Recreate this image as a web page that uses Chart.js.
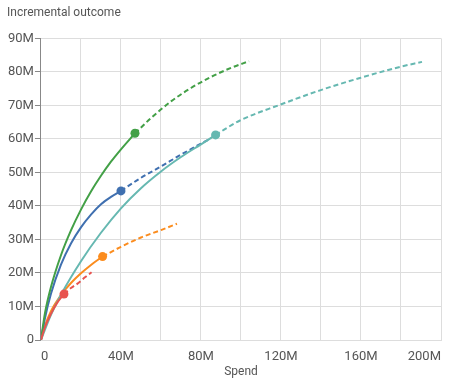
<!DOCTYPE html>
<html>
<head>
<meta charset="utf-8">
<script src="https://cdn.jsdelivr.net/npm/chart.js@4"></script>
<style>
  body { margin: 0; background: #fff; }
  #wrap { width: 450px; height: 380px; }
</style>
</head>
<body>
<div id="wrap"><canvas id="myChart"></canvas></div>
<script>
// values in millions (spend on x, incremental outcome on y)
var greenSpend = [0, 2, 5, 10, 15, 20, 25, 30, 35, 40, 47];
var greenOutcome = [0, 8, 15.8, 25.3, 32.7, 38.9, 44.3, 49, 53.2, 56.9, 61.7];
var greenSpendFwd = [47, 55, 65, 75, 85, 95, 104];
var greenOutcomeFwd = [61.7, 66.2, 71.2, 75.2, 78.5, 81.2, 83.2];

var tealSpend = [0, 5, 10, 20, 30, 40, 50, 60, 70, 80, 87.3];
var tealOutcome = [0, 7.5, 13.5, 23.5, 32, 39.3, 45.3, 50.3, 54.6, 58.4, 61.2];
var tealSpendFwd = [87.3, 99.5, 119.5, 139.5, 159.5, 179.5, 190.5];
var tealOutcomeFwd = [61.2, 65.5, 70.2, 74.5, 78.2, 81.5, 83];

var blueSpend = [0, 2, 5, 10, 15, 20, 25, 30, 35, 40];
var blueOutcome = [0, 6.5, 13.8, 22.5, 28.8, 33.6, 37.4, 40.5, 42.7, 44.5];
var blueSpendFwd = [40, 50, 60, 70, 80, 85];
var blueOutcomeFwd = [44.5, 48.4, 51.8, 55.3, 58.6, 60.2];

var orangeSpend = [0, 2, 5, 10, 15, 20, 25, 30.8];
var orangeOutcome = [0, 4.2, 8.6, 13.4, 17, 19.9, 22.4, 24.9];
var orangeSpendFwd = [30.8, 40, 50, 60, 68];
var orangeOutcomeFwd = [24.9, 27.8, 30.6, 32.8, 34.7];

var redSpend = [0, 2, 5, 8, 11.5];
var redOutcome = [0, 3.8, 7.8, 11, 13.7];
var redSpendFwd = [11.5, 15, 18.7, 22, 25.3];
var redOutcomeFwd = [13.7, 15.5, 17, 18.7, 20.2];

var xTicks = [0, 40, 80, 120, 160, 200];

function toPoints(xs, ys) {
  var pts = [];
  for (var i = 0; i < xs.length; i++) {
    pts.push({ x: xs[i], y: ys[i] });
  }
  return pts;
}

function solid(xs, ys, color) {
  var last = xs.length - 1;
  return {
    data: toPoints(xs, ys),
    borderColor: color,
    backgroundColor: color,
    borderWidth: 2,
    showLine: true,
    cubicInterpolationMode: "monotone",
    pointRadius: function (c) { return c.dataIndex === last ? 4.5 : 0; },
    pointHoverRadius: 0,
    pointBorderWidth: 0,
  };
}

function dashed(xs, ys, color) {
  return {
    data: toPoints(xs, ys),
    borderColor: color,
    borderWidth: 2,
    borderDash: [5, 3],
    showLine: true,
    cubicInterpolationMode: "monotone",
    pointRadius: 0,
  };
}

var green = "#43a047";
var teal = "#66b8b1";
var blue = "#4070b0";
var orange = "#fb8c1e";
var red = "#e8534f";

var ctx = document.getElementById("myChart").getContext("2d");
var myChart = new Chart(ctx, {
  type: "scatter",
  data: {
    datasets: [
      solid(redSpend, redOutcome, red),
      dashed(redSpendFwd, redOutcomeFwd, red),
      solid(tealSpend, tealOutcome, teal),
      dashed(tealSpendFwd, tealOutcomeFwd, teal),
      solid(greenSpend, greenOutcome, green),
      dashed(greenSpendFwd, greenOutcomeFwd, green),
      solid(blueSpend, blueOutcome, blue),
      dashed(blueSpendFwd, blueOutcomeFwd, blue),
      solid(orangeSpend, orangeOutcome, orange),
      dashed(orangeSpendFwd, orangeOutcomeFwd, orange),
    ],
  },
  options: {
    responsive: true,
    maintainAspectRatio: false,
    animation: false,
    layout: { padding: { left: 7, right: 9, top: 0, bottom: 1 } },
    plugins: {
      legend: { display: false },
      tooltip: { enabled: false },
      title: {
        display: true,
        text: "Incremental outcome",
        align: "start",
        color: "#555",
        font: { family: "Roboto", size: 12, weight: "normal" },
        padding: { top: 6, bottom: 18 },
      },
    },
    scales: {
      x: {
        type: "linear",
        min: 0,
        max: 200,
        title: {
          display: true,
          text: "Spend",
          color: "#555",
          font: { family: "Roboto", size: 12 },
          padding: { top: -9, bottom: 0 },
        },
        ticks: {
          stepSize: 20,
          align: "inner",
          padding: 9,
          maxRotation: 0,
          color: "#555",
          font: { family: "Roboto", size: 13 },
          callback: function (v) {
            if (xTicks.indexOf(v) < 0) return "";
            return v === 0 ? "0" : v + "M";
          },
        },
        grid: { color: "#ddd", drawTicks: false },
        border: { color: "#ddd" },
      },
      y: {
        min: 0,
        max: 90,
        ticks: {
          stepSize: 10,
          padding: 1,
          color: "#555",
          font: { family: "Roboto", size: 13 },
          callback: function (v) { return v === 0 ? "0" : v + "M"; },
        },
        grid: { color: "#ddd", tickColor: "#888", tickLength: 6 },
        border: { color: "#888" },
      },
    },
  },
});
</script>
</body>
</html>
